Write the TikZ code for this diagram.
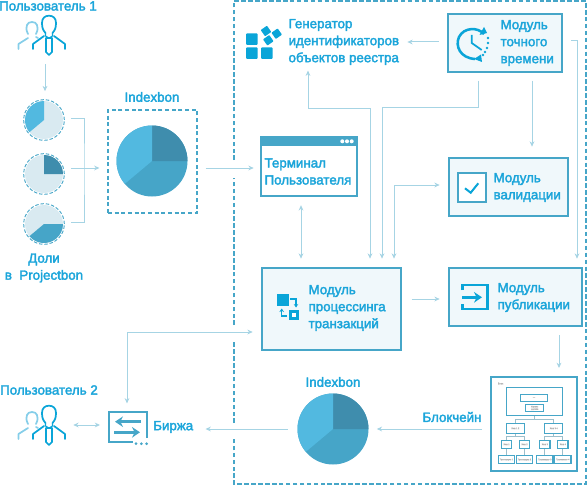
\documentclass[tikz,border=0pt]{standalone}
\usepackage{fontspec}
\setmainfont{Liberation Sans}[FakeBold=2.4]
\usepackage{tikz}
\usetikzlibrary{arrows.meta,positioning,calc}
\definecolor{txtblue}{HTML}{1BA5DA}
\definecolor{iconblue}{HTML}{0AA5D8}
\definecolor{boxline}{HTML}{46A6C8}
\definecolor{boxfill}{HTML}{F0F8FB}
\definecolor{lineblue}{HTML}{A6D4E4}
\definecolor{pielight}{HTML}{D9EAF1}
\definecolor{piedark}{HTML}{3F8DAD}
\definecolor{piemid}{HTML}{46A5C8}
\definecolor{piesky}{HTML}{52B9E0}
\definecolor{treeline}{HTML}{9CBFCC}
\begin{document}
\begin{tikzpicture}[
    x=0.75pt, y=-0.75pt,
    wh/.style 2 args={minimum width=#1*0.75pt, minimum height=#2*0.75pt},
    lbl/.style={font=\fontsize{10}{12.75}\selectfont, text=txtblue, inner sep=0pt, align=left},
    lblc/.style={lbl, align=center},
    modbox/.style={draw=boxline, line width=1.5pt, fill=boxfill, inner sep=0pt},
    holder/.style={inner sep=0pt},
    dashbox/.style={draw=boxline, line width=0.8pt, dash pattern=on 3pt off 2pt},
    share/.style={circle, draw=boxline, line width=0.7pt, dash pattern=on 2.6pt off 1.4pt, inner sep=0pt, minimum size=30.5pt},
    pieback/.style={circle, inner sep=0pt},
    conn/.style={draw=lineblue, line width=0.75pt, shorten <=6pt, shorten >=6pt},
    arr/.style={conn, -{Stealth[length=4pt,width=3.6pt]}},
    arrb/.style={conn, {Stealth[length=4pt,width=3.6pt]}-{Stealth[length=4pt,width=3.6pt]}},
    ico/.style={draw=iconblue, line width=1.3pt},
    icob/.style={draw=boxline, line width=1.6pt},
    tree/.style={draw=boxline, line width=0.85pt, inner sep=0pt, font=\fontsize{1.6}{1.8}\selectfont, text=black!30, align=center},
    treeln/.style={draw=treeline, line width=0.85pt},
    pics/userpair/.style={code={
        \draw[ico, draw=piesky!70, line cap=round, line join=round] (-21,-2) .. controls (-23,-6) and (-23,-9) .. (-22,-11) .. controls (-21,-15) and (-13,-15) .. (-12,-11) .. controls (-11,-9) and (-11,-6) .. (-13,-2);
        \draw[ico, draw=piesky!70, line cap=round, line join=round] (-30.5,13) -- (-30.5,8) -- (-21,2) (-13,1) -- (-11,2);
        \draw[ico, line cap=round, line join=round] (-3.5,-3) .. controls (-6,-6) and (-7,-8) .. (-7,-13) .. controls (-7,-18) and (-4,-20.3) .. (0,-20.3) .. controls (4,-20.3) and (7,-18) .. (7,-13) .. controls (7,-8) and (6,-6) .. (3.5,-3);
        \draw[ico, line cap=round, line join=round] (-16,13) -- (-16,8) -- (-5,0) (16,13) -- (16,8) -- (5,0);
        \draw[ico, line join=round] (-3,2) -- (-3,16) -- (0,19) -- (3,16) -- (3,2) -- cycle;
        \draw[ico, line width=0.8pt] (-3.5,-3) -- (-3.5,0) -- (0,2) -- (3.5,0) -- (3.5,-3);
    }},
    pics/slices/.style={code={
        \fill[piemid] (0,0) circle[radius=35.5];
        \fill[piedark] (0,0) -- (0:35.5) arc[start angle=0, end angle=-90, radius=35.5] -- cycle;
        \fill[piesky] (0,0) -- (-90:35.5) arc[start angle=-90, end angle=-220, radius=35.5] -- cycle;
    }}
]
\useasboundingbox (0,0) rectangle (588,485);

% dashed frame, open where connectors cross it
\draw[draw=boxline, line width=0.8pt, dash pattern=on 3.4pt off 1.8pt] (234,160) -- (234,1) -- (586,1) -- (586,484) -- (234,484) -- (234,437) (234,423) -- (234,340) (234,325) -- (234,178);

% left column
\node[lblc] (user1txt) at (48,6) {Пользователь 1};
\node[holder, wh={47}{41}] (user1) at (41.5,35.5) {};
\pic at (49,36) {userpair};
\node[share] (share1) at (44,120) {};
\node[share] (share2) at (44,174) {};
\node[share] (share3) at (44,224) {};
\fill[pielight] (share1.center) circle[radius=19];
\fill[pielight] (share2.center) circle[radius=19];
\fill[pielight] (share3.center) circle[radius=19];
\fill[piesky] (share1.center) -- +(-90:19) arc[start angle=-90, end angle=-220, radius=19] -- cycle;
\fill[piedark] (share2.center) -- +(0:19) arc[start angle=0, end angle=-90, radius=19] -- cycle;
\fill[piemid] (share3.center) -- +(-220:19) arc[start angle=-220, end angle=-360, radius=19] -- cycle;
\node[lblc] (sharetxt) at (44,268) {Доли\\в\ \ Projectbon};
\coordinate (brk) at (84,168);

% index boxes
\node[lblc] (idxtxt) at (152,97) {Indexbon};
\node[dashbox, wh={89}{103}] (idxbox) at (152.5,161.5) {};
\node[pieback, wh={71}{71}] (idxpie) at (152,161) {};
\pic at (idxpie.center) {slices};
\node[lblc] (idx2txt) at (333,382) {Indexbon};
\node[pieback, wh={71}{71}] (idx2pie) at (333,429) {};
\pic at (idx2pie.center) {slices};

% terminal
\node[draw=boxline, line width=1.5pt, fill=white, inner sep=0pt, wh={96}{59}] (term) at (308.7,166.7) {};
\fill[boxline] (term.north west) rectangle (356.7,145.7);
\foreach \dotx in {342.3,347,351.7} \fill[white] (\dotx,141.3) circle[radius=2];
\node[lbl, anchor=west] (termtxt) at (264.3,171.5) {Терминал\\Пользователя};

% generator
\node[lbl, anchor=west] (gen) at (288.3,42) {Генератор\\идентификаторов\\объектов реестра};
\foreach \sqx/\sqy in {246/33.3,246/47.3,261/47.3} \fill[iconblue, rounded corners=0.8pt] (\sqx,\sqy) rectangle ++(11.7,11.7);
\foreach \dmx/\dmy in {266/31,276.7/33.7,268.3/40.3} \fill[iconblue, rounded corners=0.5pt, rotate around={35:(\dmx,\dmy)}] (\dmx-3.8,\dmy-3.8) rectangle ++(7.6,7.6);

% modules
\node[modbox, wh={114.6}{57.7}] (clock) at (505,42.8) {};
\node[lbl, anchor=west] (clocktxt) at (500.3,43) {Модуль\\точного\\времени};
\draw[ico, line width=1.9pt] (484,34) .. controls (478,27) and (464,27) .. (459,37) .. controls (455,46) and (460,58) .. (475,59);
\draw[ico] (471.7,35) -- (471.7,43) -- (481.7,50);
\fill[iconblue] (487,33) -- (479.5,35) -- (484,27) -- cycle (474,59) -- (481,54.5) -- (482,62) -- cycle;
\foreach \dotx/\doty in {488/38,488/43,487/48,485/52,483/55} \fill[iconblue] (\dotx,\doty) circle[radius=1.3];

\node[modbox, wh={119.3}{58.3}] (valid) at (508.3,186.8) {};
\node[lbl, anchor=west] (validtxt) at (493.3,187.5) {Модуль\\валидации};
\draw[icob, fill=white] (457.7,173.3) rectangle (485.7,201.7);
\draw[ico, line width=1.5pt] (465,188.3) -- (470.7,192.7) -- (478.3,183.3);

\node[modbox, wh={139}{82.3}] (trans) at (331.2,308.8) {};
\node[lbl, anchor=west] (transtxt) at (308.3,308) {Модуль\\процессинга\\транзакций};
\fill[iconblue] (277,294) rectangle (289,305.7);
\fill[iconblue] (289,310) rectangle (299,320);
\fill[white] (292,313) rectangle (296,317);
\draw[ico, line width=0.9pt, -{Stealth[length=2.6pt,width=3.4pt]}] (290,299) -- (296,299) -- (296,307.5);
\draw[ico, line width=0.9pt, -{Stealth[length=2.6pt,width=3.4pt]}] (287,316) -- (281.7,316) -- (281.7,308.5);

\node[modbox, wh={133}{58.6}] (pub) at (515.2,297) {};
\node[lbl, anchor=west] (pubtxt) at (497.3,297.5) {Модуль\\публикации};
\draw[ico, line width=2pt] (462.3,290) -- (462.3,285) -- (487.7,285) -- (487.7,309) -- (462.3,309) -- (462.3,304);
\draw[ico, line width=2pt, -{Stealth[length=6pt,width=8pt]}] (462.3,297.3) -- (482,297.3);

% user 2 and exchange
\node[lblc] (user2txt) at (49,390) {Пользователь 2};
\node[holder, wh={47}{41}] (user2) at (41.5,425.5) {};
\pic at (49,426) {userpair};
\node[holder, wh={37.4}{30.6}] (exch) at (127,427) {};
\draw[icob] (146.7,438) -- (146.7,411.7) -- (109.3,411.7) -- (109.3,442.3) -- (133,442.3);
\foreach \dotx in {136,141.3,146.7} \fill[boxline] (\dotx,443.7) circle[radius=1.5];
\draw[icob, line width=2pt, -{Stealth[length=6pt,width=8pt]}] (141,421.7) -- (115,421.7);
\draw[icob, line width=2pt, -{Stealth[length=6pt,width=8pt]}] (114,432.3) -- (140,432.3);
\node[lbl, anchor=west] (birzha) at (153,427) {Биржа};

% block tree
\node[lblc, anchor=center] (chaintxt) at (452,417) {Блокчейн};
\node[draw=boxline, line width=1.5pt, fill=white, inner sep=0pt, wh={86}{94}] (chain) at (534,424) {};
\node[font=\fontsize{1.8}{2}\selectfont, text=black!30, inner sep=0pt] (blocktxt) at (500.5,383.5) {Блок};
\node[tree, wh={56}{27.6}] (hdr) at (534.7,401.5) {};
\node[tree, wh={27}{7}] (hdrtop) at (534,397.8) {---};
\node[tree, wh={18}{7.3}] (hdrroot) at (534.7,408) {Корень\\дерева};
\node[tree, wh={18}{10}] (h12) at (515.3,428.3) {Хэш 1 2};
\node[tree, wh={18}{10}] (h34) at (553.7,428.3) {Хэш 3 4};
\foreach \lfn/\lfx in {1/506.5,2/524.5,3/544.8,4/562.8} {
    \node[tree, wh={10.3}{8}] (leaf\lfn) at (\lfx,444.3) {Хэш \lfn};
    \node[tree, wh={16.4}{8}] (tx\lfn) at (\lfx,459.7) {Транзакция \lfn};
    \draw[treeln] (leaf\lfn) -- (tx\lfn);
}
\draw[treeln] (hdr.south) -- ++(0,4) -| (h12.north);
\draw[treeln] (hdr.south) -- ++(0,4) -| (h34.north);
\draw[treeln] (h12.south) -- ++(0,3) -| (leaf1.north);
\draw[treeln] (h12.south) -- ++(0,3) -| (leaf2.north);
\draw[treeln] (h34.south) -- ++(0,3) -| (leaf3.north);
\draw[treeln] (h34.south) -- ++(0,3) -| (leaf4.north);

% connectors
\draw[arr] (45,0 |- user1.south) -- (45,0 |- share1.north);
\draw[conn, shorten <=4.5pt, shorten >=4.5pt] (share1.east |- 0,118) -| (brk) |- (share3.east |- 0,222);
\draw[arr, shorten <=4.5pt] (share2.east |- 0,168) -- (idxbox.west |- 0,168);
\draw[arr, shorten >=4.5pt] (idxbox.east |- 0,168) -- (term.west |- 0,168);
\draw[arr] (clock.west |- 0,42) -- (gen.east |- 0,42);
\draw[arrb, shorten >=4pt] (370,0 |- trans.north) |- (308,108) -- (308,0 |- gen.south);
\draw[arr] (478,0 |- clock.south) |- (382,107) -- (382,0 |- trans.north);
\draw[arr, shorten >=7.5pt] (532,0 |- clock.south) -- (532,0 |- valid.north);
\draw[arr] (clock.east |- 0,41) -| (577,0 |- pub.north);
\draw[arrb] (394,0 |- trans.north) |- (valid.west |- 0,185);
\draw[arrb] (301,0 |- term.south) -- (301,0 |- trans.north);
\draw[arr, shorten <=7.5pt] (trans.east |- 0,299) -- (pub.west |- 0,299);
\draw[arrb] (trans.west |- 0,332) -| (exch.north);
\draw[arrb] (user2.east |- 0,425) -- (exch.west |- 0,425);
\draw[arr] (559,0 |- pub.south) -- (559,0 |- chain.north);
\draw[arr] (chain.west |- 0,429) -- (idx2pie.east |- 0,429);
\draw[arr, shorten <=7pt, shorten >=9pt] (idx2pie.west |- 0,429) -- (birzha.east |- 0,429);
\end{tikzpicture}
\end{document}
